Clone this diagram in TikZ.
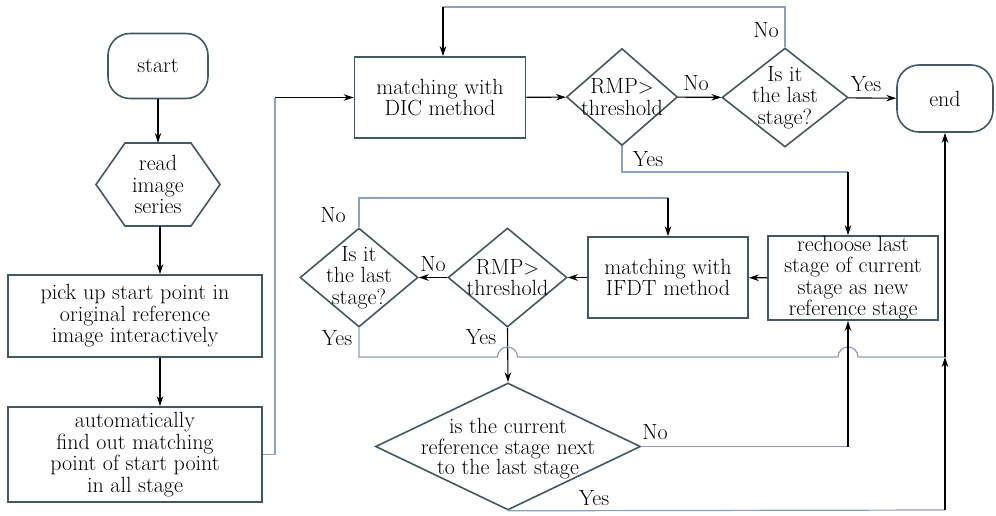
\documentclass[tikz,border=0pt]{standalone}
\usetikzlibrary{shapes.geometric,arrows.meta}
\definecolor{bordercol}{RGB}{68,88,100}
\definecolor{linecol}{RGB}{140,160,192}
\begin{document}
\begin{tikzpicture}[x=1pt,y=-1pt,
  every node/.style={font=\fontsize{22}{21.5}\selectfont},
  box/.style={draw=bordercol,line width=1.6pt,rectangle,align=center,inner sep=0pt},
  term/.style={box,rounded corners=22pt},
  hexa/.style={rectangle,align=center,inner sep=0pt},
  dia/.style={draw=bordercol,line width=1.6pt,diamond,inner sep=0pt},
  lab/.style={align=center,inner sep=0pt},
  conn/.style={draw=linecol,line width=1.2pt},
  arr/.style={draw=black,line width=1.1pt,-{Stealth[length=10pt,width=6.5pt]}}]
\useasboundingbox (0,0) rectangle (996,515);
\fill[white] (0,0) rectangle (996,515);

% nodes
\node[term,minimum width=100pt,minimum height=65pt] (start) at (158,66) {start};
\node[hexa,minimum width=124pt,minimum height=83pt] (read) at (158,184.5) {read\\image\\series};
\draw[draw=bordercol,line width=1.6pt] (96,184.5) -- (125,143) -- (191,143) -- (220,184.5) -- (191,226) -- (125,226) -- cycle;
\node[box,minimum width=254pt,minimum height=82pt] (pick) at (135,316) {pick up start point in\\original reference\\image interactively};
\node[box,minimum width=254pt,minimum height=95pt] (auto) at (135,454.5) {automatically\\find out matching\\point of start point\\in all stage};
\node[box,minimum width=171pt,minimum height=81pt] (dic) at (440,97.5) {matching with\\DIC method};
\node[dia,minimum width=111pt,minimum height=97pt] (rmp1) at (622,97) {};
\node[lab] at (rmp1) {RMP$>$\\threshold};
\node[dia,minimum width=126pt,minimum height=99pt] (last1) at (785,97.5) {};
\node[lab] at (last1) {Is it\\the last\\stage?};
\node[term,minimum width=96pt,minimum height=67pt] (end) at (945,98.5) {end};
\node[box,minimum width=170pt,minimum height=82pt] (rech) at (853,278) {rechoose last\\stage of current\\stage as new\\reference stage};
\node[box,minimum width=160pt,minimum height=81pt] (ifdt) at (668,277.5) {matching with\\IFDT method};
\node[dia,minimum width=119pt,minimum height=99pt] (rmp2) at (507.5,277.5) {};
\node[lab] at (rmp2) {RMP$>$\\threshold};
\node[dia,minimum width=118pt,minimum height=99pt] (last2) at (359,277.5) {};
\node[lab] at (last2) {Is it\\the last\\stage?};
\node[dia,minimum width=265pt,minimum height=127pt] (cur) at (508,446.5) {};
\node[lab,font=\fontsize{22}{20.5}\selectfont] at (508,449) {is the current\\reference stage next\\to the last stage};

% coordinates
\coordinate (c0) at (160,235);
\coordinate (c1) at (275,97.5);
\coordinate (c2) at (443,7);
\coordinate (c3) at (785,7);
\coordinate (c4) at (622,172);
\coordinate (c5) at (848,172);
\coordinate (c6) at (359,198);
\coordinate (c7) at (668,198);
\coordinate (c8) at (359,357);
\coordinate (c9) at (945,357);
\coordinate (c10) at (848,446.5);
\coordinate (c11) at (945,510);

% connectors
\draw[arr] (start) -- (read);
\draw[arr] (read.south -| c0) -- (c0 |- pick.north);
\draw[arr] (c0 |- pick.south) -- (c0 |- auto.north);
\draw[conn] (auto.east) -| (c1);
\draw[arr] (c1) -- (dic.west);
\draw[arr] (dic) -- (rmp1);
\draw[arr] (rmp1) -- (last1);
\draw[arr] (last1) -- (end);
\draw[conn] (last1.north) -- (c3) -- (c2);
\draw[arr] (c2) -- (c2 |- dic.north);
\draw[conn] (rmp1.south) -- (c4) -- (c5);
\draw[arr] (c5) -- (c5 |- rech.north);
\draw[arr] (rech) -- (ifdt);
\draw[arr] (ifdt) -- (rmp2);
\draw[arr] (rmp2) -- (last2);
\draw[conn] (last2.north) -- (c6) -- (c7);
\draw[arr] (c7) -- (c7 |- ifdt.north);
\draw[arr] (rmp2.south) -- (cur.north);
\draw[conn] (last2.south) -- (c8) -- (497.5,357) arc[start angle=180,end angle=0,radius=10pt]
  -- (838,357) arc[start angle=180,end angle=0,radius=10pt] -- (c9);
\draw[conn] (cur.east) -- (c10);
\draw[arr] (c10) -- (c10 |- rech.south);
\draw[conn] (cur.south) -- (c11);
\draw[arr] (c11) -- (c9);
\draw[arr] (c9) -- (c9 |- end.south);

% labels
\node[lab] at (766,30) {No};
\node[lab] at (696,83) {No};
\node[lab] at (866,84) {Yes};
\node[lab] at (648,159) {Yes};
\node[lab] at (433,264) {No};
\node[lab] at (333,215) {No};
\node[lab] at (337,338) {Yes};
\node[lab] at (481,337) {Yes};
\node[lab] at (655,432) {No};
\node[lab] at (594,498) {Yes};
\end{tikzpicture}
\end{document}
